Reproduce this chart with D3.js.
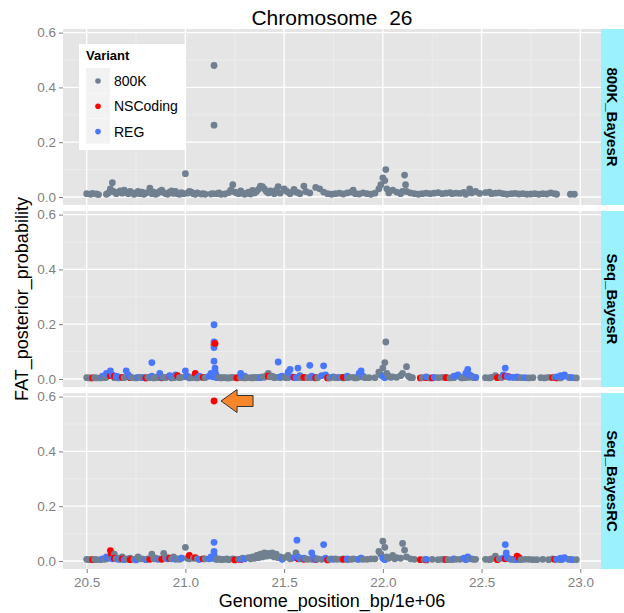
<!DOCTYPE html>
<html>
<head>
<meta charset="utf-8">
<script src="https://cdn.jsdelivr.net/npm/d3@7"></script>
<style>
  body { margin: 0; background: white; }
  text { font-family: "Liberation Sans", Arial, sans-serif; }
</style>
</head>
<body>
<div id="chart"></div>
<script>
const width = 624, height = 613,
  margin = { left: 63, right: 23 },
  panelTops = [29, 211, 393],
  panelHeight = 176;

const panels = ["800K_BayesR", "Seq_BayesR", "Seq_BayesRC"];
const variants = ["800K", "NSCoding", "REG"];
const colors = { "800K": "#708090", "NSCoding": "#FF0000", "REG": "#4876FF" };
const xTicks = [20.5, 21.0, 21.5, 22.0, 22.5, 23.0];
const xMinor = [20.75, 21.25, 21.75, 22.25, 22.75];
const yTicks = [0.0, 0.2, 0.4, 0.6];
const yMinor = [0.1, 0.3, 0.5];

// [position (Mb), posterior probability]
const bayesR800K = [
  [20.50,0.012],[20.52,0.010],[20.53,0.013],[20.55,0.011],[20.56,0.009],[20.60,0.010],[20.61,0.015],
  [20.62,0.030],[20.63,0.052],[20.635,0.020],[20.65,0.012],[20.66,0.018],[20.67,0.022],[20.68,0.014],
  [20.69,0.025],[20.70,0.018],[20.71,0.012],[20.72,0.020],[20.73,0.016],[20.74,0.010],[20.75,0.014],
  [20.76,0.020],[20.77,0.012],[20.78,0.018],[20.79,0.010],[20.80,0.015],[20.82,0.032],[20.83,0.012],
  [20.84,0.018],[20.85,0.010],[20.86,0.014],[20.87,0.020],[20.88,0.025],[20.89,0.016],[20.90,0.012],
  [20.91,0.010],[20.92,0.018],[20.93,0.022],[20.94,0.013],[20.95,0.020],[20.96,0.012],[20.97,0.010],
  [20.98,0.016],[20.99,0.012],[21.00,0.085],[21.01,0.014],[21.02,0.020],[21.03,0.018],[21.04,0.012],
  [21.05,0.010],[21.06,0.015],[21.08,0.011],[21.09,0.012],[21.10,0.010],[21.13,0.011],[21.14,0.012],
  [21.145,0.480],[21.145,0.262],[21.16,0.012],[21.17,0.015],[21.18,0.010],[21.20,0.011],[21.22,0.016],
  [21.23,0.025],[21.24,0.045],[21.25,0.018],[21.26,0.015],[21.27,0.012],[21.28,0.022],[21.29,0.014],
  [21.30,0.010],[21.31,0.013],[21.32,0.018],[21.33,0.011],[21.34,0.024],[21.35,0.015],[21.36,0.020],
  [21.37,0.028],[21.38,0.040],[21.39,0.038],[21.40,0.030],[21.41,0.020],[21.42,0.015],[21.43,0.022],
  [21.44,0.018],[21.45,0.012],[21.46,0.025],[21.47,0.038],[21.48,0.014],[21.50,0.030],[21.51,0.022],
  [21.52,0.018],[21.53,0.012],[21.55,0.028],[21.56,0.018],[21.57,0.016],[21.58,0.012],[21.60,0.040],
  [21.61,0.020],[21.63,0.015],[21.66,0.035],[21.68,0.030],[21.70,0.018],[21.72,0.012],[21.74,0.010],
  [21.76,0.012],[21.78,0.014],[21.80,0.011],[21.82,0.015],[21.84,0.018],[21.85,0.025],[21.86,0.012],
  [21.88,0.011],[21.90,0.015],[21.92,0.012],[21.94,0.010],[21.96,0.014],[21.98,0.030],[21.99,0.045],
  [22.00,0.070],[22.01,0.060],[22.015,0.100],[22.02,0.030],[22.03,0.015],[22.05,0.025],[22.07,0.018],
  [22.09,0.012],[22.10,0.020],[22.11,0.080],[22.115,0.045],[22.12,0.020],[22.14,0.015],[22.16,0.012],
  [22.18,0.010],[22.20,0.012],[22.22,0.014],[22.24,0.012],[22.26,0.014],[22.28,0.016],[22.30,0.012],
  [22.32,0.014],[22.34,0.016],[22.35,0.012],[22.37,0.014],[22.39,0.013],[22.41,0.017],[22.42,0.010],
  [22.44,0.030],[22.45,0.015],[22.47,0.020],[22.49,0.013],[22.52,0.016],[22.54,0.018],[22.55,0.012],
  [22.57,0.014],[22.59,0.015],[22.61,0.012],[22.63,0.010],[22.65,0.012],[22.67,0.013],[22.69,0.011],
  [22.71,0.012],[22.73,0.010],[22.75,0.011],[22.77,0.012],[22.79,0.010],[22.81,0.012],[22.83,0.011],
  [22.85,0.015],[22.87,0.012],[22.88,0.010],[22.95,0.010],[22.97,0.010]
];

const seqR800K = [
  [20.50,0.005],[20.51,0.004],[20.52,0.004],[20.54,0.005],[20.55,0.004],[20.57,0.004],[20.59,0.005],
  [20.60,0.006],[20.64,0.005],[20.65,0.006],[20.66,0.004],[20.68,0.005],[20.69,0.005],[20.72,0.006],
  [20.73,0.005],[20.75,0.004],[20.77,0.006],[20.78,0.005],[20.80,0.004],[20.81,0.006],[20.82,0.005],
  [20.84,0.004],[20.85,0.006],[20.86,0.005],[20.88,0.004],[20.89,0.006],[20.90,0.005],[20.93,0.004],
  [20.94,0.005],[20.95,0.006],[20.97,0.005],[20.98,0.006],[21.00,0.008],[21.02,0.004],[21.03,0.005],
  [21.05,0.005],[21.06,0.004],[21.08,0.006],[21.10,0.005],[21.16,0.005],[21.17,0.006],[21.18,0.004],
  [21.19,0.005],[21.20,0.005],[21.21,0.004],[21.22,0.004],[21.23,0.005],[21.24,0.006],[21.26,0.005],
  [21.28,0.005],[21.29,0.006],[21.30,0.004],[21.31,0.005],[21.33,0.005],[21.34,0.004],[21.35,0.006],
  [21.36,0.005],[21.37,0.005],[21.38,0.006],[21.39,0.008],[21.40,0.006],[21.41,0.012],[21.42,0.020],
  [21.43,0.008],[21.44,0.010],[21.45,0.005],[21.46,0.006],[21.48,0.005],[21.50,0.007],[21.51,0.005],
  [21.52,0.005],[21.55,0.006],[21.58,0.005],[21.59,0.006],[21.60,0.006],[21.62,0.005],[21.64,0.005],
  [21.66,0.004],[21.67,0.005],[21.72,0.005],[21.73,0.004],[21.74,0.006],[21.76,0.005],[21.77,0.005],
  [21.79,0.006],[21.80,0.004],[21.82,0.005],[21.83,0.006],[21.85,0.006],[21.86,0.004],[21.87,0.005],
  [21.89,0.008],[21.91,0.005],[21.93,0.005],[21.96,0.005],[21.98,0.025],[21.99,0.015],[22.00,0.040],
  [22.01,0.060],[22.015,0.135],[22.02,0.020],[22.03,0.010],[22.04,0.006],[22.05,0.008],[22.07,0.006],
  [22.09,0.012],[22.10,0.020],[22.12,0.045],[22.13,0.010],[22.14,0.005],[22.15,0.005],[22.20,0.005],
  [22.24,0.004],[22.28,0.005],[22.30,0.006],[22.32,0.006],[22.34,0.004],[22.36,0.005],[22.40,0.004],
  [22.42,0.005],[22.44,0.006],[22.46,0.005],[22.47,0.005],[22.52,0.005],[22.54,0.004],[22.55,0.006],
  [22.57,0.012],[22.58,0.006],[22.60,0.005],[22.66,0.006],[22.68,0.005],[22.70,0.005],[22.74,0.004],
  [22.76,0.005],[22.80,0.005],[22.82,0.004],[22.84,0.006],[22.87,0.005],[22.90,0.004],[22.95,0.005],
  [22.98,0.004]
];
const seqRCoding = [
  [20.53,0.004],[20.62,0.012],[20.64,0.010],[20.68,0.006],[20.72,0.005],[20.80,0.004],[20.88,0.006],
  [20.92,0.010],[20.96,0.012],[21.05,0.020],[21.09,0.006],[21.145,0.125],[21.15,0.130],[21.26,0.004],
  [21.42,0.010],[21.55,0.006],[21.60,0.006],[21.66,0.005],[21.72,0.004],[21.80,0.006],[22.19,0.004],
  [22.22,0.005],[22.25,0.004],[22.32,0.005],[22.58,0.005],[22.62,0.010],[22.64,0.008],[22.86,0.005],
  [22.88,0.004]
];
const seqRReg = [
  [20.58,0.010],[20.60,0.020],[20.62,0.030],[20.63,0.015],[20.65,0.010],[20.66,0.008],[20.70,0.030],
  [20.71,0.015],[20.72,0.008],[20.76,0.006],[20.79,0.005],[20.83,0.060],[20.83,0.010],[20.87,0.020],
  [20.88,0.008],[20.92,0.012],[20.93,0.006],[20.95,0.015],[21.00,0.030],[21.01,0.010],[21.02,0.006],
  [21.07,0.010],[21.12,0.010],[21.13,0.020],[21.135,0.012],[21.14,0.008],[21.145,0.198],[21.145,0.135],
  [21.145,0.115],[21.145,0.065],[21.15,0.040],[21.15,0.028],[21.155,0.015],[21.16,0.005],[21.28,0.020],
  [21.29,0.010],[21.30,0.010],[21.38,0.005],[21.47,0.062],[21.48,0.008],[21.49,0.010],[21.52,0.025],
  [21.53,0.035],[21.54,0.008],[21.56,0.005],[21.57,0.040],[21.58,0.012],[21.63,0.050],[21.64,0.010],
  [21.65,0.006],[21.69,0.012],[21.70,0.048],[21.71,0.015],[21.75,0.008],[21.78,0.006],[21.82,0.010],
  [21.88,0.020],[21.89,0.030],[21.90,0.010],[22.00,0.010],[22.01,0.005],[22.22,0.008],[22.26,0.006],
  [22.36,0.010],[22.38,0.015],[22.39,0.008],[22.42,0.020],[22.43,0.035],[22.44,0.015],[22.45,0.010],
  [22.47,0.006],[22.61,0.015],[22.62,0.040],[22.63,0.010],[22.64,0.006],[22.66,0.006],[22.68,0.008],
  [22.72,0.005],[22.88,0.008],[22.90,0.012],[22.91,0.008],[22.92,0.015],[22.94,0.006],[22.96,0.005]
];

const seqRC800K = [
  [20.50,0.006],[20.51,0.005],[20.52,0.005],[20.54,0.006],[20.55,0.005],[20.57,0.005],[20.59,0.006],
  [20.60,0.008],[20.62,0.012],[20.64,0.025],[20.65,0.008],[20.66,0.010],[20.67,0.006],[20.68,0.015],
  [20.70,0.008],[20.71,0.006],[20.72,0.010],[20.74,0.006],[20.76,0.015],[20.77,0.008],[20.78,0.008],
  [20.80,0.006],[20.81,0.008],[20.83,0.025],[20.84,0.008],[20.85,0.010],[20.87,0.008],[20.89,0.028],
  [20.90,0.010],[20.91,0.012],[20.93,0.008],[20.94,0.015],[20.96,0.008],[20.97,0.006],[20.98,0.010],
  [21.00,0.050],[21.01,0.010],[21.02,0.008],[21.04,0.010],[21.06,0.008],[21.07,0.006],[21.10,0.008],
  [21.16,0.006],[21.17,0.008],[21.18,0.005],[21.19,0.006],[21.20,0.006],[21.21,0.008],[21.22,0.005],
  [21.24,0.008],[21.25,0.006],[21.27,0.006],[21.29,0.010],[21.30,0.008],[21.32,0.012],[21.33,0.008],
  [21.34,0.015],[21.35,0.010],[21.36,0.020],[21.37,0.012],[21.38,0.025],[21.39,0.015],[21.40,0.030],
  [21.41,0.018],[21.42,0.028],[21.43,0.020],[21.44,0.030],[21.45,0.015],[21.46,0.025],[21.47,0.012],
  [21.48,0.015],[21.50,0.012],[21.52,0.020],[21.53,0.008],[21.54,0.010],[21.56,0.030],[21.58,0.010],
  [21.59,0.008],[21.61,0.008],[21.62,0.006],[21.64,0.006],[21.67,0.008],[21.69,0.006],[21.73,0.006],
  [21.74,0.008],[21.76,0.008],[21.77,0.006],[21.79,0.006],[21.80,0.008],[21.82,0.005],[21.84,0.006],
  [21.85,0.008],[21.87,0.006],[21.89,0.010],[21.90,0.006],[21.92,0.006],[21.94,0.008],[21.96,0.008],
  [21.98,0.035],[21.99,0.025],[22.00,0.072],[22.01,0.050],[22.02,0.015],[22.03,0.010],[22.05,0.020],
  [22.06,0.008],[22.07,0.012],[22.09,0.010],[22.10,0.064],[22.11,0.040],[22.12,0.015],[22.14,0.008],
  [22.16,0.006],[22.21,0.005],[22.25,0.006],[22.28,0.005],[22.30,0.006],[22.31,0.006],[22.33,0.005],
  [22.35,0.005],[22.37,0.006],[22.39,0.006],[22.42,0.005],[22.44,0.008],[22.46,0.006],[22.47,0.006],
  [22.52,0.006],[22.54,0.005],[22.55,0.008],[22.57,0.018],[22.58,0.006],[22.59,0.008],[22.65,0.006],
  [22.67,0.005],[22.70,0.005],[22.72,0.006],[22.74,0.006],[22.76,0.005],[22.78,0.005],[22.81,0.006],
  [22.84,0.005],[22.86,0.008],[22.90,0.005],[22.95,0.006],[22.98,0.005]
];
const seqRCCoding = [
  [20.53,0.005],[20.62,0.038],[20.625,0.025],[20.64,0.010],[20.68,0.008],[20.72,0.005],[20.82,0.006],
  [20.88,0.006],[20.92,0.010],[21.02,0.020],[21.05,0.012],[21.09,0.008],[21.145,0.584],[21.25,0.004],
  [21.28,0.005],[21.57,0.008],[21.60,0.006],[21.66,0.005],[21.72,0.004],[21.80,0.006],[22.19,0.005],
  [22.22,0.004],[22.32,0.005],[22.58,0.005],[22.62,0.008],[22.68,0.018],[22.69,0.012],[22.87,0.006]
];
const seqRCReg = [
  [20.58,0.008],[20.60,0.015],[20.61,0.010],[20.63,0.008],[20.66,0.006],[20.69,0.005],[20.75,0.004],
  [20.80,0.005],[20.86,0.006],[20.91,0.008],[20.95,0.006],[20.98,0.010],[21.07,0.006],[21.12,0.008],
  [21.13,0.015],[21.135,0.010],[21.145,0.068],[21.145,0.035],[21.145,0.020],[21.15,0.010],[21.155,0.006],
  [21.28,0.006],[21.30,0.008],[21.49,0.006],[21.55,0.012],[21.565,0.076],[21.57,0.015],[21.58,0.008],
  [21.60,0.010],[21.64,0.030],[21.65,0.012],[21.66,0.006],[21.70,0.060],[21.71,0.010],[21.75,0.006],
  [21.82,0.008],[21.88,0.006],[21.89,0.010],[22.00,0.010],[22.01,0.005],[22.22,0.006],[22.36,0.008],
  [22.41,0.010],[22.42,0.006],[22.43,0.015],[22.45,0.008],[22.61,0.010],[22.62,0.060],[22.625,0.030],
  [22.63,0.012],[22.64,0.008],[22.66,0.006],[22.68,0.005],[22.88,0.006],[22.90,0.010],[22.91,0.006],
  [22.92,0.012],[22.94,0.006],[22.96,0.005]
];

const panelData = [
  { "800K": bayesR800K, "NSCoding": [], "REG": [] },
  { "800K": seqR800K, "NSCoding": seqRCoding, "REG": seqRReg },
  { "800K": seqRC800K, "NSCoding": seqRCCoding, "REG": seqRCReg }
];

const svg = d3.select("#chart").append("svg")
  .attr("width", width).attr("height", height)
  .style("background-color", "white");

const xScale = d3.scaleLinear()
  .domain([20.38, 23.105])
  .range([margin.left, width - margin.right]);

panels.forEach((name, i) => {
  const top = panelTops[i];
  const yScale = d3.scaleLinear()
    .domain([-0.0292, 0.6132])
    .range([top + panelHeight, top]);

  const g = svg.append("g");

  g.append("rect")
    .attr("x", margin.left).attr("y", top)
    .attr("width", xScale.range()[1] - margin.left).attr("height", panelHeight)
    .attr("fill", "#E5E5E5");

  // grid
  g.selectAll(".xminor").data(xMinor).enter().append("line")
    .attr("x1", d => xScale(d)).attr("x2", d => xScale(d))
    .attr("y1", top).attr("y2", top + panelHeight)
    .attr("stroke", "#F2F2F2").attr("stroke-width", 0.6);
  g.selectAll(".yminor").data(yMinor).enter().append("line")
    .attr("x1", margin.left).attr("x2", xScale.range()[1])
    .attr("y1", d => yScale(d)).attr("y2", d => yScale(d))
    .attr("stroke", "#F2F2F2").attr("stroke-width", 0.6);
  g.selectAll(".xmajor").data(xTicks).enter().append("line")
    .attr("x1", d => xScale(d)).attr("x2", d => xScale(d))
    .attr("y1", top).attr("y2", top + panelHeight)
    .attr("stroke", "white").attr("stroke-width", 1.3);
  g.selectAll(".ymajor").data(yTicks).enter().append("line")
    .attr("x1", margin.left).attr("x2", xScale.range()[1])
    .attr("y1", d => yScale(d)).attr("y2", d => yScale(d))
    .attr("stroke", "white").attr("stroke-width", 1.3);

  // y axis
  const yAxis = g.append("g")
    .attr("transform", `translate(${margin.left},0)`)
    .call(d3.axisLeft(yScale).tickValues(yTicks).tickFormat(d3.format(".1f")).tickSize(4).tickPadding(3));
  yAxis.select(".domain").remove();
  yAxis.selectAll("line").attr("stroke", "#7F7F7F");
  yAxis.selectAll("text").attr("fill", "#7F7F7F")
    .style("font-size", "13.5px").style("font-family", "'Liberation Sans', Arial, sans-serif");

  // points, drawn in genome order
  const pts = [];
  variants.forEach(v => panelData[i][v].forEach(p => pts.push({ pos: p[0], val: p[1], variant: v })));
  pts.sort((a, b) => a.pos - b.pos);
  g.selectAll("circle").data(pts).enter().append("circle")
    .attr("cx", d => xScale(d.pos))
    .attr("cy", d => yScale(d.val))
    .attr("r", 3.4)
    .attr("fill", d => colors[d.variant]);

  // strip
  g.append("rect")
    .attr("x", xScale.range()[1]).attr("y", top)
    .attr("width", margin.right).attr("height", panelHeight)
    .attr("fill", "#9BF2FE");
  g.append("text")
    .attr("transform", `translate(${xScale.range()[1] + 6},${top + panelHeight / 2}) rotate(90)`)
    .attr("text-anchor", "middle")
    .style("font-size", "15px").style("font-weight", "bold")
    .text(name);

  if (i === 2) {
    const xAxis = g.append("g")
      .attr("transform", `translate(0,${top + panelHeight})`)
      .call(d3.axisBottom(xScale).tickValues(xTicks).tickFormat(d3.format(".1f")).tickSize(4).tickPadding(4));
    xAxis.select(".domain").remove();
    xAxis.selectAll("line").attr("stroke", "#7F7F7F");
    xAxis.selectAll("text").attr("fill", "#7F7F7F")
      .style("font-size", "13.5px").style("font-family", "'Liberation Sans', Arial, sans-serif");

    // arrow pointing at the top NSCoding hit
    const top1 = seqRCCoding.reduce((a, b) => (b[1] > a[1] ? b : a));
    const tx = xScale(top1[0]) + 7, ty = yScale(top1[1]);
    const arrow = [[0, 0], [16, -11.5], [16, -5.5], [32, -5.5], [32, 5.5], [16, 5.5], [16, 11.5]];
    g.append("polygon")
      .attr("points", arrow.map(p => [tx + p[0], ty + p[1]].join(",")).join(" "))
      .attr("fill", "#F7862A").attr("stroke", "#333333").attr("stroke-width", 1);
  }

  if (i === 0) {
    // legend
    const lg = g.append("g").attr("transform", "translate(79,44)");
    lg.append("rect").attr("width", 106).attr("height", 106).attr("fill", "white");
    lg.append("text").attr("x", 7).attr("y", 16)
      .style("font-size", "13px").style("font-weight", "bold").text("Variant");
    variants.forEach((v, k) => {
      lg.append("rect").attr("x", 7).attr("y", 24 + k * 25.3).attr("width", 24).attr("height", 25)
        .attr("fill", "#F2F2F2");
      lg.append("circle").attr("cx", 19).attr("cy", 37 + k * 25.3).attr("r", 2.8).attr("fill", colors[v]);
      lg.append("text").attr("x", 35).attr("y", 42 + k * 25.3)
        .style("font-size", "14px").text(v);
    });
  }
});

// titles
svg.append("text")
  .attr("x", (margin.left + xScale.range()[1]) / 2).attr("y", 25)
  .attr("text-anchor", "middle").style("font-size", "21px")
  .style("white-space", "pre")
  .text("Chromosome  26");

svg.append("text")
  .attr("x", (margin.left + xScale.range()[1]) / 2).attr("y", 607)
  .attr("text-anchor", "middle").style("font-size", "18px")
  .text("Genome_position_bp/1e+06");

svg.append("text")
  .attr("transform", `translate(28,${(panelTops[0] + panelTops[2] + panelHeight) / 2}) rotate(-90)`)
  .attr("text-anchor", "middle").style("font-size", "18px")
  .text("FAT_posterior_probability");
</script>
</body>
</html>
